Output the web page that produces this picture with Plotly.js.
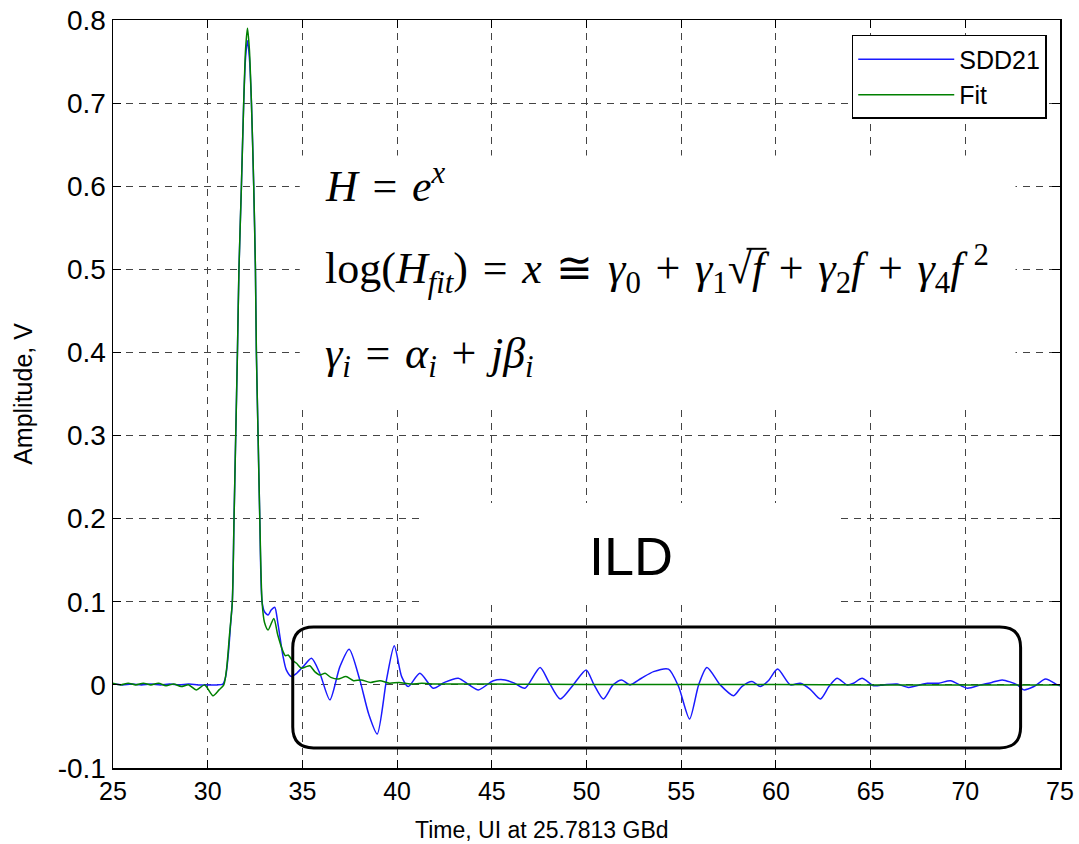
<!DOCTYPE html>
<html>
<head>
<meta charset="utf-8">
<script src="https://cdn.plot.ly/plotly-3.0.1.min.js"></script>
<style>html,body{margin:0;padding:0;background:#fff;}#chart{width:1079px;height:844px;}</style>
</head>
<body>
<div id="chart"></div>
<script>
// ---- Data ----
const sddTime = [25.0,25.5,26.0,26.5,27.0,27.5,28.0,28.5,29.0,29.5,30.0,30.5,30.8,30.95,31.1,31.2,31.3,31.39,31.48,31.57,31.65,31.78,31.9,32.0,32.1,32.2,32.31,32.43,32.52,32.57,32.66,32.75,32.87,33.0,33.19,33.35,33.54,33.7,33.98,34.15,34.42,34.7,35.04,35.48,35.92,36.45,36.98,37.47,38.03,38.5,38.95,39.44,39.85,40.24,40.59,41.2,41.91,42.5,43.23,43.8,44.29,45.08,45.7,46.2,46.75,47.55,48.0,48.61,49.3,49.98,50.4,50.89,51.4,51.86,52.3,52.9,53.54,54.33,54.86,55.44,55.92,56.36,57.06,57.77,58.2,58.74,59.18,59.6,60.09,60.76,61.29,61.8,62.35,62.8,63.23,63.76,64.1,64.55,65.16,65.69,66.4,67.0,67.99,68.6,69.22,70.1,70.8,71.4,71.95,72.74,73.09,73.62,74.24,74.86,75.0];
const sddAmp  = [0.001,0.0,0.001,0.0,0.001,0.0,0.001,0.0,0.001,0.0,0.0,0.0,0.001,0.01,0.04,0.07,0.10,0.20,0.30,0.40,0.50,0.60,0.70,0.755,0.775,0.755,0.70,0.60,0.50,0.40,0.30,0.20,0.10,0.088,0.084,0.09,0.0935,0.075,0.034,0.018,0.010,0.014,0.022,0.032,0.014,-0.018,0.022,0.043,0.006,-0.035,-0.059,0.006,0.047,0.010,-0.002,0.014,-0.004,0.003,0.008,0.0,-0.006,0.005,0.006,0.002,-0.004,0.021,0.004,-0.017,0.0,0.018,0.0,-0.017,0.0,0.006,0.0,0.008,0.016,0.019,-0.002,-0.041,0.0,0.021,0.0,-0.013,-0.002,0.004,-0.002,0.005,0.019,0.0,0.002,-0.005,-0.017,-0.002,0.008,0.0,0.002,0.008,-0.001,0.0,0.001,-0.003,0.002,0.002,0.005,-0.004,0.0,0.003,0.006,0.0,-0.006,-0.002,0.007,0.0,-0.001];

const fitTime = [25.0,25.4,25.8,26.2,26.6,27.0,27.4,27.8,28.2,28.6,29.0,29.4,29.84,30.28,30.6,30.85,31.0,31.15,31.3,31.39,31.48,31.57,31.65,31.78,31.9,32.0,32.1,32.2,32.31,32.43,32.52,32.57,32.66,32.75,32.87,33.0,33.19,33.49,33.7,33.98,34.1,34.25,34.45,34.69,34.95,35.2,35.39,35.65,35.92,36.2,36.5,36.89,37.3,37.7,38.1,38.6,39.1,39.6,40.1,40.7,41.3,42.0,43.0,45.0,50.0,55.0,60.0,65.0,70.0,75.0];
const fitAmp  = [0.002,0.0,0.002,0.0,0.002,0.0,0.002,-0.001,0.001,-0.002,0.0,-0.006,0.0,-0.013,-0.006,0.0,0.02,0.06,0.10,0.20,0.30,0.40,0.50,0.60,0.70,0.765,0.79,0.765,0.70,0.60,0.50,0.40,0.30,0.20,0.10,0.075,0.066,0.080,0.06,0.040,0.035,0.036,0.030,0.026,0.020,0.022,0.023,0.016,0.012,0.014,0.009,0.007,0.010,0.005,0.006,0.003,0.005,0.002,0.003,0.001,0.002,0.001,0.001,0.001,0.0005,0.0005,0.0005,0.0,0.0,0.0];

const seriesNames = ['SDD21','Fit'];
const xTickVals = [25,30,35,40,45,50,55,60,65,70,75];
const yTickVals = [-0.1,0,0.1,0.2,0.3,0.4,0.5,0.6,0.7,0.8];
const yTickText = ['-0.1','0','0.1','0.2','0.3','0.4','0.5','0.6','0.7','0.8'];

// ---- Annotation geometry (data coordinates) ----
const ildBox = {x0:34.49, x1:72.92, y0:-0.0758, y1:0.0698, rx:1.1, ry:0.025};
const eqMask = {x0:34.86, x1:72.65, y0:0.337, y1:0.637};
const ildMask = {x0:41.47, x1:63.29, y0:0.097, y1:0.219};
const vinculum = {x0:58.45, x1:59.5, y:0.5247};

function roundRect(b){
  const {x0,x1,y0,y1,rx,ry} = b;
  return `M${x0+rx},${y1} L${x1-rx},${y1} Q${x1},${y1} ${x1},${y1-ry} L${x1},${y0+ry} Q${x1},${y0} ${x1-rx},${y0} L${x0+rx},${y0} Q${x0},${y0} ${x0},${y0+ry} L${x0},${y1-ry} Q${x0},${y1} ${x0+rx},${y1} Z`;
}

const traces = [
  {x: sddTime, y: sddAmp, name: seriesNames[0], type:'scatter', mode:'lines',
   line:{color:'#1a1aff', width:1.5, shape:'spline', smoothing:0.7}},
  {x: fitTime, y: fitAmp, name: seriesNames[1], type:'scatter', mode:'lines',
   line:{color:'#008000', width:1.5, shape:'spline', smoothing:0.7}}
];

const SANS = '"Liberation Sans", Arial, sans-serif';
const xTickFont = {family:SANS, size:25, color:'#000'};
const yTickFont = {family:SANS, size:28, color:'#000'};
const titleFont = {family:SANS, size:23, color:'#000'};
const yTitleFont = {family:SANS, size:25, color:'#000'};

function axisBase(tickfont){
  return {showgrid:true, gridcolor:'#444', gridwidth:1, griddash:'7px,6px', zeroline:false,
    showline:true, linecolor:'#000', linewidth:1.5, mirror:'ticks', ticks:'inside', ticklen:8,
    tickcolor:'#000', tickwidth:1, tickfont:tickfont};
}

const mathFont = {family:'"Liberation Serif", "Times New Roman", serif', size:44, color:'#000'};
const S = '\u00a0';
const H = '\u200a';
const op = o => H + S + o + S + H;

const layout = {
  width:1079, height:844,
  margin:{l:113, r:19, t:20, b:76},
  paper_bgcolor:'#fff', plot_bgcolor:'#fff',
  font:{family:SANS, size:20, color:'#000'},
  xaxis: Object.assign(axisBase(xTickFont), {range:[25,75], tickvals:xTickVals}),
  yaxis: Object.assign(axisBase(yTickFont), {range:[-0.1,0.8], tickvals:yTickVals, ticktext:yTickText,
    title:{text:'Amplitude, V', font:yTitleFont, standoff:18}}),
  showlegend:true,
  legend:{x:0.986, y:0.980, xanchor:'right', yanchor:'top', bgcolor:'#fff', bordercolor:'#000', borderwidth:1.5,
    font:{family:SANS, size:25, color:'#000'}, itemwidth:96, tracegroupgap:0},
  shapes:[
    {type:'rect', xref:'x', yref:'y', x0:eqMask.x0, x1:eqMask.x1, y0:eqMask.y0, y1:eqMask.y1,
     fillcolor:'#fff', line:{width:0}, layer:'between'},
    {type:'rect', xref:'x', yref:'y', x0:ildMask.x0, x1:ildMask.x1, y0:ildMask.y0, y1:ildMask.y1,
     fillcolor:'#fff', line:{width:0}, layer:'between'},
    {type:'line', xref:'x', yref:'y', x0:vinculum.x0, x1:vinculum.x1, y0:vinculum.y, y1:vinculum.y,
     line:{color:'#000', width:2}, layer:'above'},
    {type:'path', xref:'x', yref:'y', path:roundRect(ildBox), line:{color:'#000', width:3}, layer:'above'}
  ],
  annotations:[
    {xref:'paper', yref:'paper', x:0.453, y:-0.083, xanchor:'center', yanchor:'middle', showarrow:false,
     font:titleFont, text:'Time, UI at 25.7813 GBd'},
    {xref:'x', yref:'y', x:36.1, y:0.603, xanchor:'left', yanchor:'middle', showarrow:false, font:mathFont,
     text:'<i>H</i>'+op('=')+'<i>e<sup>x</sup></i>'},
    {xref:'x', yref:'y', x:36.1, y:0.5, xanchor:'left', yanchor:'middle', showarrow:false, font:mathFont,
     text:'log(<i>H<sub>fit</sub></i>)'+op('=')+'<i>x</i>'+op('≅')+'<i>γ</i><sub>0</sub>'+op('+')+'<i>γ</i><sub>1</sub>√<i>f</i>'+op('+')+'<i>γ</i><sub>2</sub><i>f</i>'+op('+')+'<i>γ</i><sub>4</sub><i>f</i>'+S+'<sup>2</sup>'},
    {xref:'x', yref:'y', x:36.1, y:0.395, xanchor:'left', yanchor:'middle', showarrow:false, font:mathFont,
     text:'<i>γ<sub>i</sub></i>'+op('=')+'<i>α<sub>i</sub></i>'+op('+')+'<i>jβ<sub>i</sub></i>'},
    {xref:'x', yref:'y', x:52.37, y:0.155, xanchor:'center', yanchor:'middle', showarrow:false,
     font:{family:SANS, size:54, color:'#000'}, text:'ILD'}
  ]
};

Plotly.newPlot('chart', traces, layout, {staticPlot:true, displayModeBar:false});
</script>
</body>
</html>
